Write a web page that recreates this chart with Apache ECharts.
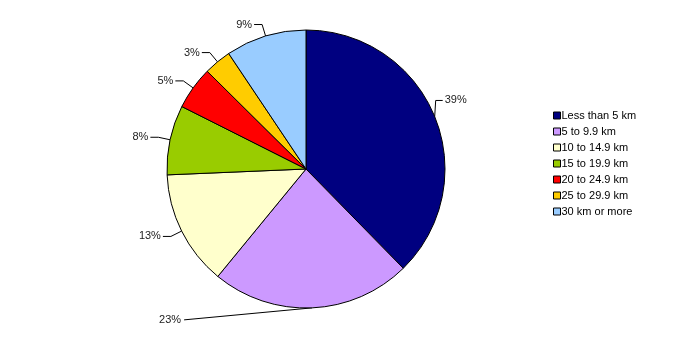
<!DOCTYPE html>
<html>
<head>
<meta charset="utf-8">
<script src="https://cdn.jsdelivr.net/npm/echarts@6/dist/echarts.min.js"></script>
<style>
    html, body { margin: 0; padding: 0; background: #fff; }
    #chart { width: 678px; height: 341px; }
</style>
</head>
<body>
<div id="chart"></div>
<script>
// 距离分组
const categories = ['Less than 5 km', '5 to 9.9 km', '10 to 14.9 km', '15 to 19.9 km', '20 to 24.9 km', '25 to 29.9 km', '30 km or more'];
// 扇区大小（从图上量出来的角度）
const shares = [37.7, 23.3, 13.4, 8.1, 5.0, 3.2, 9.4];
// 图上标注的百分比
const shareLabels = ['39%', '23%', '13%', '8%', '5%', '3%', '9%'];
const colors = ['#000080', '#CC99FF', '#FFFFCC', '#99CC00', '#FF0000', '#FFCC00', '#99CCFF'];

const mychart = echarts.init(document.getElementById('chart'));

const pieData = categories.map((name, i) => ({
    name: name,
    value: shares[i],
    itemStyle: { color: colors[i] }
}));

// 标签微调：23% 拉到左下，其它上下挪一点
const labelLayout = (params) => {
    const pts = params.labelLinePoints;
    if (params.dataIndex === 1 && pts) {
        const p0 = pts[0];
        const endX = p0[0] - 128;
        const endY = p0[1] + 12;
        return {
            x: endX - 3,
            y: endY,
            align: 'right',
            verticalAlign: 'middle',
            labelLinePoints: [p0, [endX, endY], [endX, endY]]
        };
    }
    if (params.dataIndex === 0 && pts) {
        const p0 = pts[0];
        const p1 = [p0[0] + 1, p0[1] - 16];
        const p2 = [p1[0] + 7, p1[1]];
        return {
            x: p2[0] + 2,
            y: p2[1],
            align: 'left',
            verticalAlign: 'middle',
            labelLinePoints: [p0, p1, p2]
        };
    }
    return {};
};

mychart.setOption({
    animation: false,
    textStyle: { fontFamily: 'Liberation Sans, Arial, sans-serif' },
    legend: {
        orient: 'vertical',
        left: 548,
        top: 105,
        itemWidth: 7,
        itemHeight: 7,
        itemGap: 5,
        icon: 'rect',
        itemStyle: { borderColor: '#000', borderWidth: 1 },
        textStyle: { fontSize: 11, color: '#000', padding: [0, 0, 0, -4] },
        data: categories
    },
    series: [
        {
            type: 'pie',
            center: [306, 169],
            radius: 139,
            startAngle: 90,
            clockwise: true,
            avoidLabelOverlap: false,
            itemStyle: { borderColor: '#000', borderWidth: 1 },
            label: {
                show: true,
                position: 'outside',
                formatter: (p) => shareLabels[p.dataIndex],
                fontSize: 11,
                color: '#222',
                distanceToLabelLine: 2
            },
            labelLine: {
                show: true,
                length: 12,
                length2: 8,
                lineStyle: { color: '#000', width: 1 }
            },
            labelLayout: labelLayout,
            emphasis: { disabled: true },
            data: pieData
        }
    ]
});
</script>
</body>
</html>
